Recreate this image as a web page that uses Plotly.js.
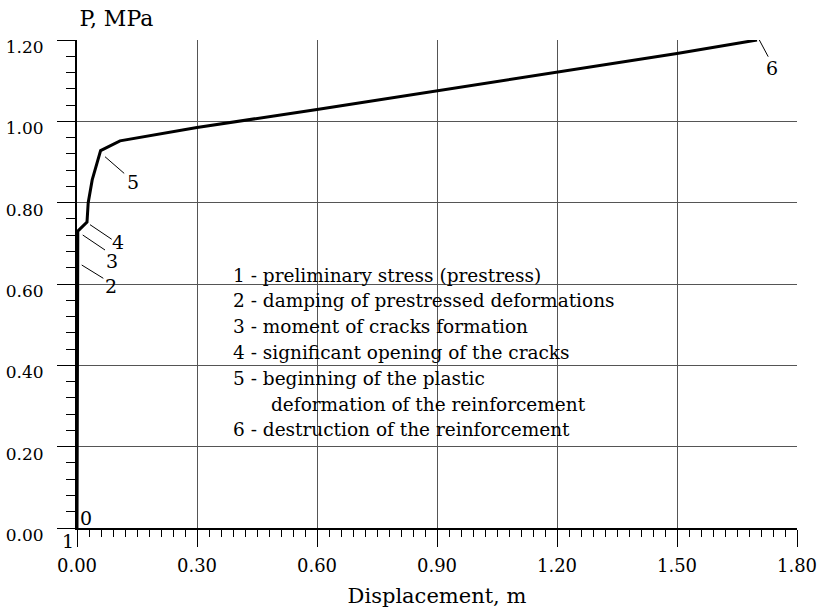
<!DOCTYPE html>
<html>
<head>
<meta charset="utf-8">
<script src="https://cdn.plot.ly/plotly-3.0.1.min.js"></script>
<style>html,body{margin:0;padding:0;background:#fff;}#chart{width:820px;height:615px;}</style>
</head>
<body>
<div id="chart"></div>
<script>
// Load–displacement curve
const displacement = [0, 0.001, 0.002, 0.002, 0.025, 0.028, 0.038, 0.059, 0.1075, 0.3, 0.6, 0.9, 1.2, 1.5, 1.7];
const pressure     = [0, 0.30, 0.60, 0.73, 0.752, 0.80, 0.856, 0.928, 0.952, 0.985, 1.029, 1.075, 1.12, 1.167, 1.2];

const xTicks = [0, 0.3, 0.6, 0.9, 1.2, 1.5, 1.8];
const yTicks = [0, 0.2, 0.4, 0.6, 0.8, 1.0, 1.2];

const legendLines = [
  "1 - preliminary stress (prestress)",
  "2 - damping of prestressed deformations",
  "3 - moment of cracks formation",
  "4 - significant opening of the cracks",
  "5 - beginning of the plastic",
  "deformation of the reinforcement",
  "6 - destruction of the reinforcement"
];
const legendIndent = [0, 0, 0, 0, 0, 1, 0];

// point labels: text, text position, leader line start/end (data units)
const pointLabels = ["2", "3", "4", "5", "6"];
const labelX = [0.085, 0.088, 0.103, 0.139, 1.738];
const labelY = [0.595, 0.6565, 0.704, 0.8516, 1.130];
const leadX0 = [0.0118, 0.0143, 0.0325, 0.070, 1.7058];
const leadY0 = [0.6467, 0.7205, 0.7459, 0.913, 1.200];
const leadX1 = [0.0658, 0.070, 0.0868, 0.118, 1.728];
const leadY1 = [0.614, 0.6836, 0.710, 0.872, 1.159];

const FONT = "DejaVu Serif, serif";

const annotations = [];
const shapes = [];
pointLabels.forEach((t, i) => {
  annotations.push({xref: 'x', yref: 'y', x: labelX[i], y: labelY[i], text: t, showarrow: false,
    font: {family: FONT, size: 19, color: '#000'}, xanchor: 'center', yanchor: 'middle'});
  shapes.push({type: 'line', xref: 'x', yref: 'y', x0: leadX0[i], y0: leadY0[i], x1: leadX1[i], y1: leadY1[i],
    line: {color: '#000', width: 1}});
});
annotations.push({xref: 'x', yref: 'y', x: 0.0225, y: 0.0246, text: "0", showarrow: false,
  font: {family: FONT, size: 19, color: '#000'}, xanchor: 'center', yanchor: 'middle'});
annotations.push({xref: 'paper', yref: 'paper', x: -0.0125, y: -0.0266, text: "1", showarrow: false,
  font: {family: FONT, size: 19, color: '#000'}, xanchor: 'center', yanchor: 'middle'});

legendLines.forEach((t, i) => {
  annotations.push({xref: 'paper', yref: 'paper', x: legendIndent[i] ? 0.2663 : 0.2139, y: 0.518 - i * 0.0528,
    text: t, showarrow: false, xanchor: 'left', yanchor: 'middle', align: 'left',
    font: {family: FONT, size: 18.5, color: '#000'}});
});

const trace = {
  x: displacement, y: pressure, type: 'scatter', mode: 'lines',
  line: {color: '#000', width: 3}, cliponaxis: false, showlegend: false, hoverinfo: 'skip'
};

const layout = {
  width: 820, height: 615,
  margin: {l: 77, r: 23, t: 40, b: 87},
  paper_bgcolor: '#fff', plot_bgcolor: '#fff',
  showlegend: false,
  title: {text: "P, MPa", x: 0.097, xref: 'container', xanchor: 'left', y: 0.970, yanchor: 'middle',
    font: {family: FONT, size: 22, color: '#000'}},
  xaxis: {
    range: [0, 1.8], tickvals: xTicks, tickformat: '.2f',
    ticks: 'outside', ticklen: 17, tickwidth: 1, tickcolor: '#000',
    showgrid: true, gridcolor: '#555', gridwidth: 1, zeroline: false,
    showline: true, linecolor: '#000', linewidth: 2,
    minor: {dtick: 0.03, tick0: 0, ticks: 'outside', ticklen: 7, tickcolor: '#000', tickwidth: 1, showgrid: false},
    tickfont: {family: FONT, size: 18, color: '#000'},
    ticklabelstandoff: 3,
    title: {text: "Displacement, m", font: {family: FONT, size: 21, color: '#000'}, standoff: 14}
  },
  yaxis: {
    range: [0, 1.2], tickvals: yTicks, tickformat: '.2f',
    ticks: 'outside', ticklen: 18, tickwidth: 1, tickcolor: '#000',
    showgrid: true, gridcolor: '#555', gridwidth: 1, zeroline: false,
    showline: true, linecolor: '#000', linewidth: 2,
    minor: {dtick: 0.04, tick0: 0, ticks: 'outside', ticklen: 9, tickcolor: '#000', tickwidth: 1, showgrid: false},
    tickfont: {family: FONT, size: 17, color: '#000'},
    ticklabelstandoff: 10, ticklabelshift: 7
  },
  annotations: annotations,
  shapes: shapes
};

Plotly.newPlot('chart', [trace], layout, {displayModeBar: false, staticPlot: true});
</script>
</body>
</html>
